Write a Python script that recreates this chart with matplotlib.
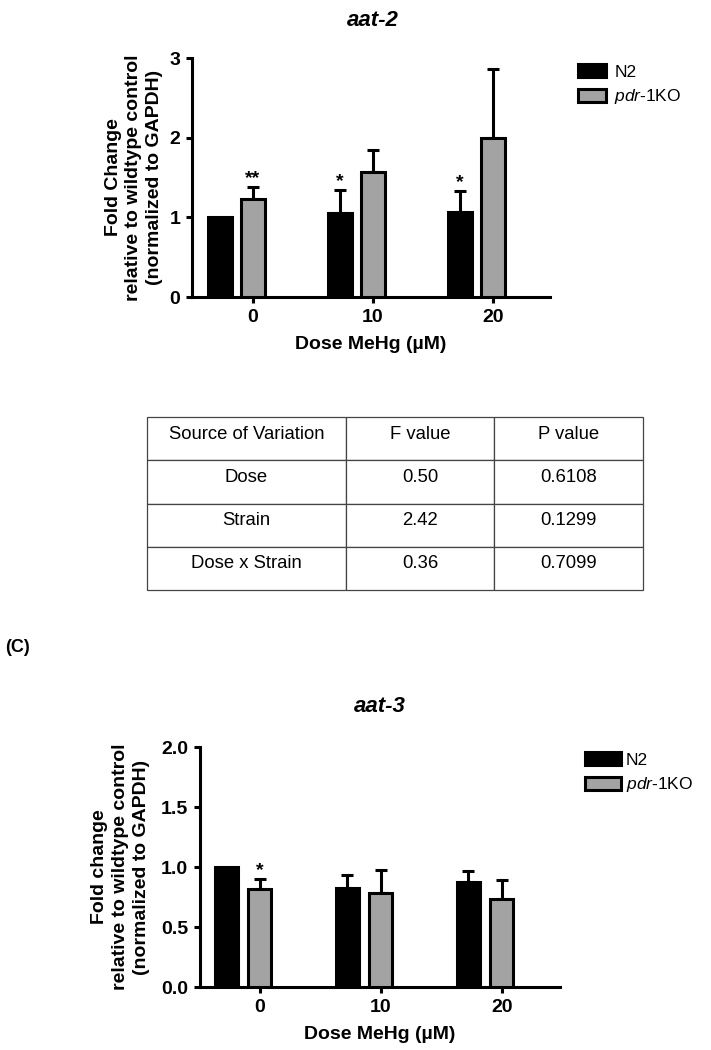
import matplotlib
matplotlib.use("Agg")
import matplotlib.pyplot as plt
import numpy as np

plt.rcParams['font.family'] = ['Liberation Sans', 'DejaVu Sans']
plt.rcParams['mathtext.fontset'] = 'custom'
plt.rcParams['mathtext.rm'] = 'Liberation Sans'
plt.rcParams['mathtext.it'] = 'Liberation Sans:italic'
plt.rcParams['mathtext.bf'] = 'Liberation Sans:bold'

# ---- data ----
DOSES = ['0', '10', '20']
STRAINS = ['N2', r'$\mathit{pdr}$-$\mathit{1}$KO']

AAT2_N2 = [1.00, 1.05, 1.07]
AAT2_N2_ERR = [0.00, 0.29, 0.26]
AAT2_PDR = [1.23, 1.57, 2.00]
AAT2_PDR_ERR = [0.15, 0.27, 0.86]
AAT2_N2_STARS = ['', '*', '*']
AAT2_PDR_STARS = ['**', '', '']

AAT3_N2 = [1.00, 0.825, 0.875]
AAT3_N2_ERR = [0.00, 0.105, 0.095]
AAT3_PDR = [0.82, 0.78, 0.73]
AAT3_PDR_ERR = [0.08, 0.195, 0.16]
AAT3_N2_STARS = ['', '', '']
AAT3_PDR_STARS = ['*', '', '']

TABLE_HEADER = ['Source of Variation', 'F value', 'P value']
TABLE_SOURCE = ['Dose', 'Strain', 'Dose x Strain']
TABLE_F = ['0.50', '2.42', '0.36']
TABLE_P = ['0.6108', '0.1299', '0.7099']

GRAY = '#a3a3a3'
LW = 2.2


def plotBars(Ax, N2, N2_Err, Pdr, Pdr_Err, N2_Stars, Pdr_Stars,
             Bar_Width, Offset, Y_Max, Y_Ticks, Y_Fmt, X_Lim, Y_Label,
             Label_X):
    x = np.arange(len(DOSES))
    b1 = Ax.bar(x - Offset, N2, Bar_Width, color='black', edgecolor='black',
                linewidth=LW, zorder=3, label=STRAINS[0])
    b2 = Ax.bar(x + Offset, Pdr, Bar_Width, color=GRAY, edgecolor='black',
                linewidth=LW, zorder=3, label=STRAINS[1])
    for xs, vals, errs in [(x - Offset, N2, N2_Err), (x + Offset, Pdr, Pdr_Err)]:
        for xi, v, e in zip(xs, vals, errs):
            if e > 0:
                Ax.errorbar(xi, v, yerr=[[0], [e]], color='black', lw=LW,
                            capsize=4.5, capthick=LW, zorder=2)
    for xs, vals, errs, stars in [(x - Offset, N2, N2_Err, N2_Stars),
                                  (x + Offset, Pdr, Pdr_Err, Pdr_Stars)]:
        for xi, v, e, s in zip(xs, vals, errs, stars):
            if s:
                Ax.annotate(s, (xi, v + e), xytext=(0, 0),
                            textcoords='offset points', ha='center',
                            va='bottom', fontsize=14, fontweight='bold')
    Ax.set_xlim(X_Lim)
    Ax.set_ylim(0, Y_Max)
    Ax.set_xticks(x + Offset)
    Ax.set_xticklabels(DOSES)
    Ax.set_yticks(Y_Ticks)
    Ax.set_yticklabels([Y_Fmt.format(t) for t in Y_Ticks])
    for side in ['top', 'right']:
        Ax.spines[side].set_visible(False)
    for side in ['left', 'bottom']:
        Ax.spines[side].set_linewidth(LW)
    Ax.tick_params(direction='out', length=4.5, width=LW, labelsize=14,
                   pad=4)
    for lab in Ax.get_xticklabels() + Ax.get_yticklabels():
        lab.set_fontweight('bold')
    Ax.set_xlabel('Dose MeHg (\u00b5M)', fontsize=14, fontweight='bold',
                  labelpad=7)
    Ax.set_ylabel(Y_Label, fontsize=14, fontweight='bold',
                  linespacing=1.3)
    Ax.yaxis.set_label_coords(Label_X, 0.5)
    return b1, b2


fig = plt.figure(figsize=(7.11, 10.5), dpi=100)

# ---- aat-2 ----
ax1 = fig.add_axes([192 / 711, 1 - 297 / 1050, 358 / 711, 239 / 1050])
h1 = plotBars(ax1, AAT2_N2, AAT2_N2_ERR, AAT2_PDR, AAT2_PDR_ERR,
              AAT2_N2_STARS, AAT2_PDR_STARS, 0.2, 0.1375, 3, [0, 1, 2, 3],
              '{:g}', (-0.371, 2.6125),
              'Fold Change\nrelative to wildtype control\n(normalized to GAPDH)',
              -0.08)
fig.text(373 / 711, 1 - 20 / 1050, 'aat-2', ha='center', va='center',
         fontsize=16, fontweight='bold', fontstyle='italic')
fig.legend(h1, STRAINS, loc='upper left',
           bbox_to_anchor=(578 / 711, 1 - 64 / 1050), frameon=False,
           fontsize=12.5, handlelength=1.6, handleheight=0.8,
           handletextpad=0.5, labelspacing=0.45, borderpad=0,
           borderaxespad=0)

# ---- ANOVA table ----
ax_t = fig.add_axes([147 / 711, 1 - 590 / 1050, 496 / 711, 173 / 1050])
ax_t.axis('off')
cells = [[s, f, p] for s, f, p in zip(TABLE_SOURCE, TABLE_F, TABLE_P)]
tbl = ax_t.table(cellText=cells, colLabels=TABLE_HEADER, cellLoc='center',
                 colWidths=[0.401, 0.299, 0.300], bbox=[0, 0, 1, 1])
tbl.auto_set_font_size(False)
for (r, c), cell in tbl.get_celld().items():
    cell.set_edgecolor('#444444')
    cell.set_linewidth(0.9)
    cell.get_text().set_fontsize(13.3)
    cell.get_text().set_va('baseline')

fig.text(5 / 711, 1 - 647 / 1050, '(C)', ha='left', va='center',
         fontsize=13, fontweight='bold')

# ---- aat-3 ----
ax2 = fig.add_axes([200 / 711, 1 - 987 / 1050, 360 / 711, 240 / 1050])
h2 = plotBars(ax2, AAT3_N2, AAT3_N2_ERR, AAT3_PDR, AAT3_PDR_ERR,
              AAT3_N2_STARS, AAT3_PDR_STARS, 0.19, 0.14, 2.0,
              [0, 0.5, 1.0, 1.5, 2.0], '{:.1f}', (-0.355, 2.62),
              'Fold change\nrelative to wildtype control\n(normalized to GAPDH)',
              -0.14)
fig.text(380 / 711, 1 - 707 / 1050, 'aat-3', ha='center', va='center',
         fontsize=16, fontweight='bold', fontstyle='italic')
fig.legend(h2, STRAINS, loc='upper left',
           bbox_to_anchor=(585 / 711, 1 - 752 / 1050), frameon=False,
           fontsize=12.5, handlelength=2.1, handleheight=0.8,
           handletextpad=0.25, labelspacing=0.45, borderpad=0,
           borderaxespad=0)

fig.savefig('out.png', dpi=100)
